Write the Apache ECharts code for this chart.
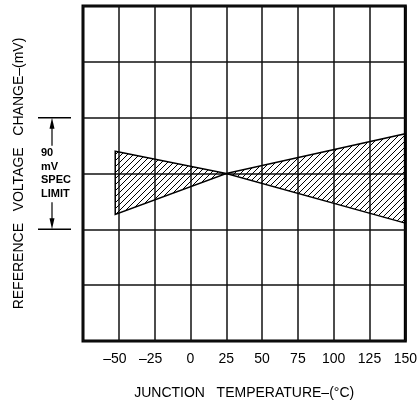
<!DOCTYPE html>
<html>
<head>
<meta charset="utf-8">
<script src="https://cdn.jsdelivr.net/npm/echarts@6/dist/echarts.min.js"></script>
<style>
  html, body { margin: 0; padding: 0; background: #fff; }
  #chart { width: 420px; height: 408px; }
</style>
</head>
<body>
<div id="chart"></div>
<script>
// Junction temperature axis (°C)
const tempTicks = [-75, -50, -25, 0, 25, 50, 75, 100, 125, 150];
// Reference voltage change axis (mV), one grid row = 45 mV
const voltTicks = [-135, -90, -45, 0, 45, 90, 135];

// Envelope of reference voltage change versus temperature
const bandTemp  = [-52.5, 25, 150];
const bandUpper = [18, 0, 32];
const bandLower = [-33, 0, -40];

// ±45 mV spec window (90 mV total)
const specLimit = [45, -45];
const specText  = ['90', 'mV', 'SPEC', 'LIMIT'];

const FONT = "'Liberation Sans', Arial, sans-serif";

// Diagonal hatch tile
function hatchTile() {
  const s = 6;
  const c = document.createElement('canvas');
  c.width = s; c.height = s;
  const g = c.getContext('2d');
  g.strokeStyle = '#000';
  g.lineWidth = 1;
  g.beginPath();
  g.moveTo(-1, s + 1); g.lineTo(s + 1, -1);
  g.moveTo(-1, 1); g.lineTo(1, -1);
  g.moveTo(s - 1, s + 1); g.lineTo(s + 1, s - 1);
  g.stroke();
  return c;
}

const chart = echarts.init(document.getElementById('chart'), null, { renderer: 'canvas' });

const option = {
  animation: false,
  backgroundColor: '#fff',
  grid: {
    left: 83, right: 14, top: 6, bottom: 67,
    show: true, borderColor: '#000', borderWidth: 3, backgroundColor: 'transparent'
  },
  xAxis: {
    type: 'value',
    min: tempTicks[0], max: tempTicks[tempTicks.length - 1], interval: 25,
    name: 'JUNCTION   TEMPERATURE–(°C)',
    nameLocation: 'middle', nameGap: 45,
    nameTextStyle: { fontFamily: FONT, fontSize: 14, color: '#000' },
    axisLine: { show: false },
    axisTick: { show: false },
    axisLabel: {
      margin: 11,
      fontFamily: FONT, fontSize: 14, color: '#000',
      showMinLabel: true, showMaxLabel: true,
      formatter: function (v) {
        if (v === tempTicks[0]) return '';
        return v < 0 ? '{n|' + String(v).replace('-', '–') + '}' : String(v);
      },
      rich: { n: { fontFamily: FONT, fontSize: 14, color: '#000', padding: [0, 8, 0, 0] } }
    },
    splitLine: { show: true, lineStyle: { color: '#111', width: 1.5 } }
  },
  yAxis: {
    type: 'value',
    min: voltTicks[0], max: voltTicks[voltTicks.length - 1], interval: 45,
    name: 'REFERENCE   VOLTAGE   CHANGE–(mV)',
    nameLocation: 'middle', nameGap: 57, nameRotate: 90,
    nameTextStyle: { fontFamily: FONT, fontSize: 14, color: '#000' },
    axisLine: { show: false },
    axisTick: { show: false },
    axisLabel: { show: false },
    splitLine: { show: true, lineStyle: { color: '#111', width: 1.5 } }
  },
  series: [{
    type: 'custom',
    coordinateSystem: 'cartesian2d',
    data: bandTemp.map(function (t, i) { return [t, bandUpper[i], bandLower[i]]; }),
    encode: { x: 0, y: [1, 2] },
    renderItem: function (params, api) {
      if (params.dataIndex !== 0) return null;
      const pts = [];
      for (let i = 0; i < bandTemp.length; i++) pts.push(api.coord([bandTemp[i], bandUpper[i]]));
      for (let i = bandTemp.length - 1; i >= 0; i--) pts.push(api.coord([bandTemp[i], bandLower[i]]));
      return {
        type: 'polygon',
        shape: { points: pts },
        style: {
          fill: { image: hatchTile(), repeat: 'repeat' },
          stroke: '#000',
          lineWidth: 1.5
        }
      };
    },
    z: 5
  }]
};

chart.setOption(option);

// Spec-limit bracket to the left of the plot
const yTop = chart.convertToPixel({ yAxisIndex: 0 }, specLimit[0]);
const yBot = chart.convertToPixel({ yAxisIndex: 0 }, specLimit[1]);
const ax = 52;
const graphics = [
  { type: 'line', shape: { x1: 38, y1: yTop, x2: 71, y2: yTop }, style: { stroke: '#000', lineWidth: 1.5 } },
  { type: 'line', shape: { x1: 38, y1: yBot, x2: 71, y2: yBot }, style: { stroke: '#000', lineWidth: 1.5 } },
  { type: 'line', shape: { x1: ax, y1: yTop + 8, x2: ax, y2: yTop + 28 }, style: { stroke: '#000', lineWidth: 1.2 } },
  { type: 'polygon', shape: { points: [[ax, yTop], [ax - 2.5, yTop + 11], [ax + 2.5, yTop + 11]] }, style: { fill: '#000' } },
  { type: 'line', shape: { x1: ax, y1: yBot - 27, x2: ax, y2: yBot - 8 }, style: { stroke: '#000', lineWidth: 1.2 } },
  { type: 'polygon', shape: { points: [[ax, yBot], [ax - 2.5, yBot - 11], [ax + 2.5, yBot - 11]] }, style: { fill: '#000' } }
];
const mid = (yTop + yBot) / 2;
specText.forEach(function (t, i) {
  graphics.push({
    type: 'text',
    x: 41, y: mid - 20.5 + i * 13.7,
    style: { text: t, font: 'bold 11px ' + FONT, fill: '#000', verticalAlign: 'middle', align: 'left' }
  });
});
chart.setOption({ graphic: graphics });
</script>
</body>
</html>
